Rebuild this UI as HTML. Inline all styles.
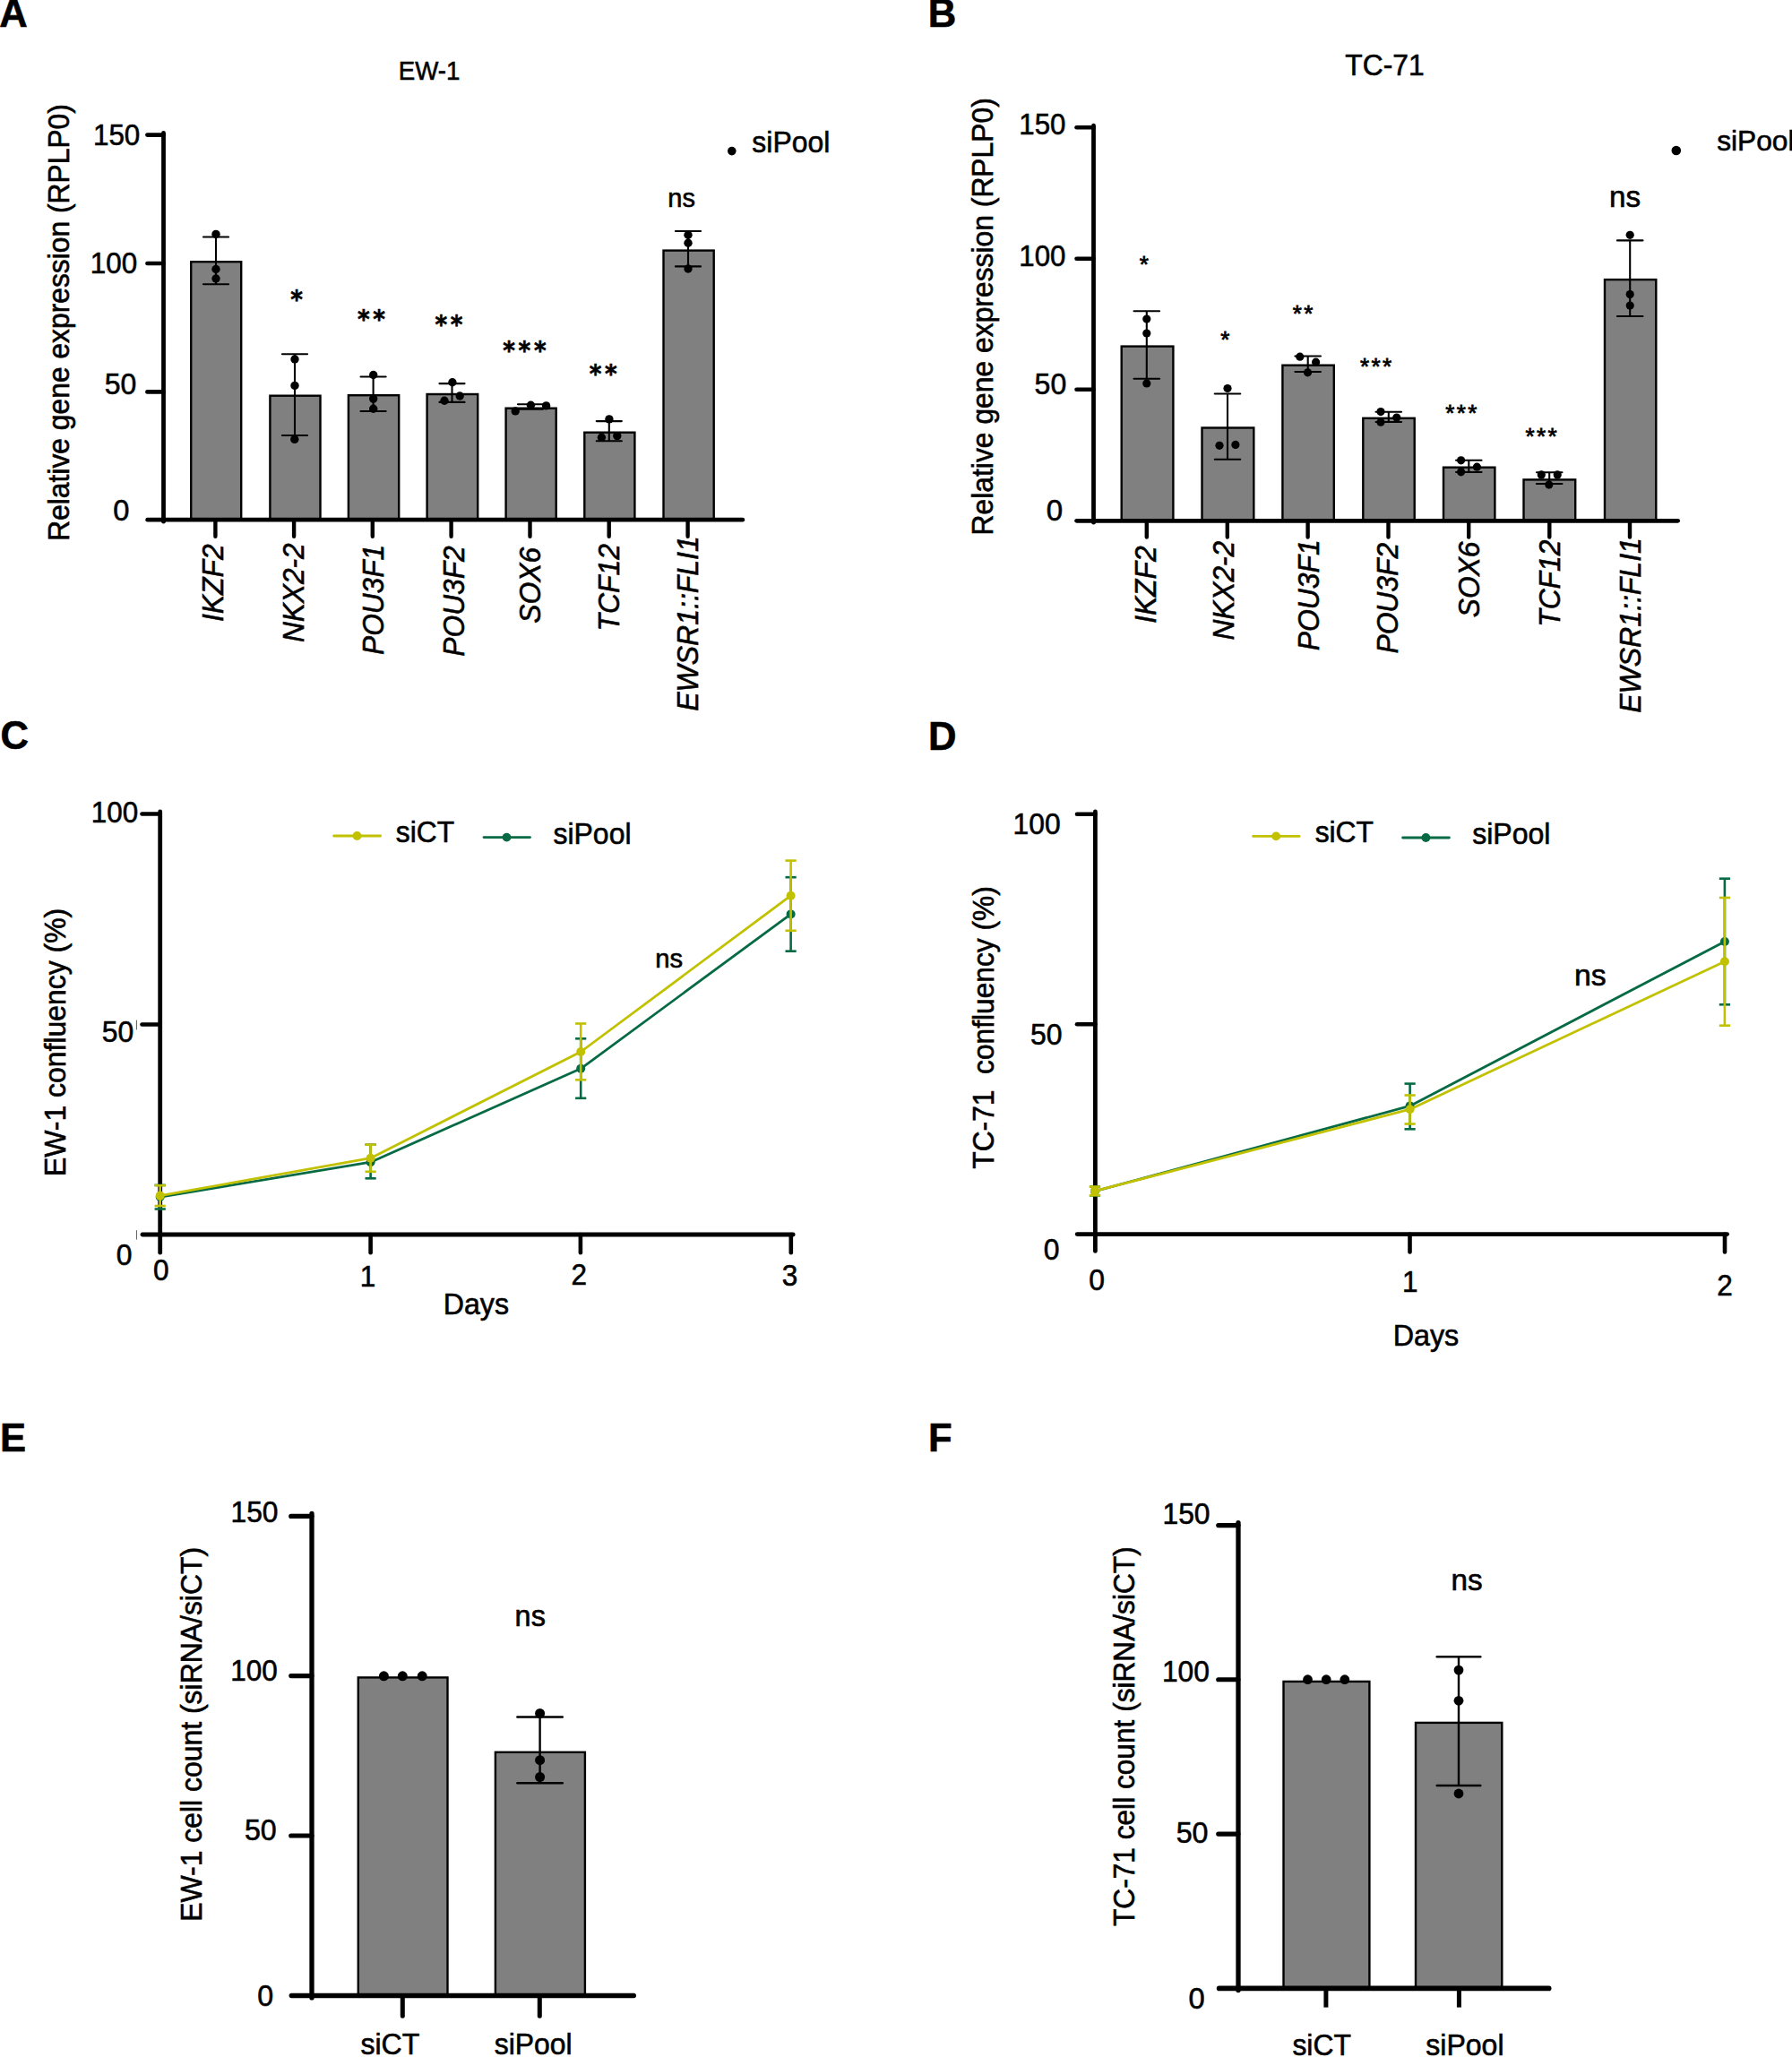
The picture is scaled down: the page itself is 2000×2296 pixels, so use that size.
<!DOCTYPE html>
<html lang="en"><head><meta charset="utf-8"><title>siPool knock-down figure</title>
<style>
html,body{margin:0;padding:0;background:#fff}
body{width:2000px;height:2296px;overflow:hidden}
svg{display:block}
svg text{font-family:"Liberation Sans",Arial,Helvetica,sans-serif;fill:#000;stroke:#000;stroke-width:0.6px}
svg text.dv{font-family:"DejaVu Sans","Liberation Sans",sans-serif;font-weight:bold}
</style></head><body>
<svg width="2000" height="2296" viewBox="0 0 2000 2296">
<rect width="2000" height="2296" fill="#fff"/>
<rect x="213.20" y="292.20" width="56.00" height="288.00" fill="#808080" stroke="#000" stroke-width="2.4"/>
<rect x="301.40" y="441.70" width="56.10" height="138.50" fill="#808080" stroke="#000" stroke-width="2.4"/>
<rect x="388.90" y="441.20" width="56.30" height="139.00" fill="#808080" stroke="#000" stroke-width="2.4"/>
<rect x="476.60" y="440.00" width="56.60" height="140.20" fill="#808080" stroke="#000" stroke-width="2.4"/>
<rect x="564.60" y="455.70" width="56.10" height="124.50" fill="#808080" stroke="#000" stroke-width="2.4"/>
<rect x="652.30" y="482.70" width="56.10" height="97.50" fill="#808080" stroke="#000" stroke-width="2.4"/>
<rect x="740.50" y="279.60" width="56.20" height="300.60" fill="#808080" stroke="#000" stroke-width="2.4"/>
<line x1="182.50" y1="148.50" x2="182.50" y2="582.20" stroke="#000" stroke-width="4.8" stroke-linecap="round"/>
<line x1="164.70" y1="580.20" x2="828.80" y2="580.20" stroke="#000" stroke-width="4.8" stroke-linecap="round"/>
<line x1="164.40" y1="150.60" x2="182.50" y2="150.60" stroke="#000" stroke-width="4.6" stroke-linecap="round"/>
<line x1="164.40" y1="294.00" x2="182.50" y2="294.00" stroke="#000" stroke-width="4.6" stroke-linecap="round"/>
<line x1="164.40" y1="437.40" x2="182.50" y2="437.40" stroke="#000" stroke-width="4.6" stroke-linecap="round"/>
<line x1="240.40" y1="580.20" x2="240.40" y2="598.70" stroke="#000" stroke-width="4.4" stroke-linecap="round"/>
<line x1="328.10" y1="580.20" x2="328.10" y2="598.70" stroke="#000" stroke-width="4.4" stroke-linecap="round"/>
<line x1="415.80" y1="580.20" x2="415.80" y2="598.70" stroke="#000" stroke-width="4.4" stroke-linecap="round"/>
<line x1="503.60" y1="580.20" x2="503.60" y2="598.70" stroke="#000" stroke-width="4.4" stroke-linecap="round"/>
<line x1="591.50" y1="580.20" x2="591.50" y2="598.70" stroke="#000" stroke-width="4.4" stroke-linecap="round"/>
<line x1="679.70" y1="580.20" x2="679.70" y2="598.70" stroke="#000" stroke-width="4.4" stroke-linecap="round"/>
<line x1="767.60" y1="580.20" x2="767.60" y2="598.70" stroke="#000" stroke-width="4.4" stroke-linecap="round"/>
<line x1="241.00" y1="264.50" x2="241.00" y2="317.20" stroke="#000" stroke-width="2.1" stroke-linecap="butt"/>
<line x1="226.95" y1="264.50" x2="255.05" y2="264.50" stroke="#000" stroke-width="2.1" stroke-linecap="round"/>
<line x1="226.95" y1="317.20" x2="255.05" y2="317.20" stroke="#000" stroke-width="2.1" stroke-linecap="round"/>
<line x1="329.00" y1="395.20" x2="329.00" y2="486.00" stroke="#000" stroke-width="2.1" stroke-linecap="butt"/>
<line x1="314.95" y1="395.20" x2="343.05" y2="395.20" stroke="#000" stroke-width="2.1" stroke-linecap="round"/>
<line x1="314.95" y1="486.00" x2="343.05" y2="486.00" stroke="#000" stroke-width="2.1" stroke-linecap="round"/>
<line x1="416.60" y1="420.50" x2="416.60" y2="459.00" stroke="#000" stroke-width="2.1" stroke-linecap="butt"/>
<line x1="402.55" y1="420.50" x2="430.65" y2="420.50" stroke="#000" stroke-width="2.1" stroke-linecap="round"/>
<line x1="402.55" y1="459.00" x2="430.65" y2="459.00" stroke="#000" stroke-width="2.1" stroke-linecap="round"/>
<line x1="504.50" y1="428.10" x2="504.50" y2="448.90" stroke="#000" stroke-width="2.1" stroke-linecap="butt"/>
<line x1="490.45" y1="428.10" x2="518.55" y2="428.10" stroke="#000" stroke-width="2.1" stroke-linecap="round"/>
<line x1="490.45" y1="448.90" x2="518.55" y2="448.90" stroke="#000" stroke-width="2.1" stroke-linecap="round"/>
<line x1="592.00" y1="451.30" x2="592.00" y2="456.70" stroke="#000" stroke-width="2.1" stroke-linecap="butt"/>
<line x1="577.95" y1="451.30" x2="606.05" y2="451.30" stroke="#000" stroke-width="2.1" stroke-linecap="round"/>
<line x1="577.95" y1="456.70" x2="606.05" y2="456.70" stroke="#000" stroke-width="2.1" stroke-linecap="round"/>
<line x1="679.80" y1="470.10" x2="679.80" y2="492.20" stroke="#000" stroke-width="2.1" stroke-linecap="butt"/>
<line x1="665.75" y1="470.10" x2="693.85" y2="470.10" stroke="#000" stroke-width="2.1" stroke-linecap="round"/>
<line x1="665.75" y1="492.20" x2="693.85" y2="492.20" stroke="#000" stroke-width="2.1" stroke-linecap="round"/>
<line x1="768.00" y1="258.00" x2="768.00" y2="297.40" stroke="#000" stroke-width="2.1" stroke-linecap="butt"/>
<line x1="753.95" y1="258.00" x2="782.05" y2="258.00" stroke="#000" stroke-width="2.1" stroke-linecap="round"/>
<line x1="753.95" y1="297.40" x2="782.05" y2="297.40" stroke="#000" stroke-width="2.1" stroke-linecap="round"/>
<circle cx="241.00" cy="261.40" r="4.7" fill="#000"/>
<circle cx="241.00" cy="300.50" r="4.7" fill="#000"/>
<circle cx="241.00" cy="311.00" r="4.7" fill="#000"/>
<circle cx="329.00" cy="401.00" r="4.7" fill="#000"/>
<circle cx="329.00" cy="430.40" r="4.7" fill="#000"/>
<circle cx="328.80" cy="490.40" r="4.7" fill="#000"/>
<circle cx="416.70" cy="418.50" r="4.7" fill="#000"/>
<circle cx="416.70" cy="445.10" r="4.7" fill="#000"/>
<circle cx="416.70" cy="456.30" r="4.7" fill="#000"/>
<circle cx="504.90" cy="426.80" r="4.7" fill="#000"/>
<circle cx="513.20" cy="442.00" r="4.7" fill="#000"/>
<circle cx="496.00" cy="447.30" r="4.7" fill="#000"/>
<circle cx="575.20" cy="458.90" r="4.7" fill="#000"/>
<circle cx="592.40" cy="452.20" r="4.7" fill="#000"/>
<circle cx="609.60" cy="452.90" r="4.7" fill="#000"/>
<circle cx="679.90" cy="467.90" r="4.7" fill="#000"/>
<circle cx="671.40" cy="488.20" r="4.7" fill="#000"/>
<circle cx="688.80" cy="486.60" r="4.7" fill="#000"/>
<circle cx="768.00" cy="262.30" r="4.7" fill="#000"/>
<circle cx="768.00" cy="271.20" r="4.7" fill="#000"/>
<circle cx="768.00" cy="300.00" r="4.7" fill="#000"/>
<text transform="translate(106.30,161.50) scale(0.9424,1)" x="-2.50" y="0" font-size="33.30">150</text>
<text transform="translate(103.20,305.00) scale(0.9424,1)" x="-2.50" y="0" font-size="33.30">100</text>
<text transform="translate(118.00,440.10) scale(0.9598,1)" x="-1.33" y="0" font-size="33.30">50</text>
<text transform="translate(127.50,581.30) scale(0.9811,1)" x="-1.33" y="0" font-size="33.30">0</text>
<text transform="translate(77.20,601.20) rotate(-90) scale(0.9550,1)" x="-2.75" y="0" font-size="33.30">Relative gene expression (RPLP0)</text>
<text transform="translate(248.90,692.80) rotate(-90) scale(0.9560,1)" x="-1.33" y="0" font-size="33.30" font-style="italic">IKZF2</text>
<text transform="translate(339.00,716.10) rotate(-90) scale(0.9493,1)" x="-1.00" y="0" font-size="33.30" font-style="italic">NKX2-2</text>
<text transform="translate(427.80,730.00) rotate(-90) scale(0.9500,1)" x="-1.00" y="0" font-size="33.30" font-style="italic">POU3F1</text>
<text transform="translate(518.40,731.70) rotate(-90) scale(0.9514,1)" x="-1.00" y="0" font-size="33.30" font-style="italic">POU3F2</text>
<text transform="translate(602.70,694.90) rotate(-90) scale(0.9555,1)" x="-0.92" y="0" font-size="33.30" font-style="italic">SOX6</text>
<text transform="translate(691.20,701.60) rotate(-90) scale(0.9571,1)" x="-3.00" y="0" font-size="33.30" font-style="italic">TCF12</text>
<text transform="translate(778.70,792.80) rotate(-90) scale(0.9610,1)" x="-1.00" y="0" font-size="33.30" font-style="italic">EWSR1::FLI1</text>
<text transform="translate(324.70,344.28) scale(0.9199,1)" x="-0.57" y="0" font-size="28.39" class="dv" letter-spacing="4.07">*</text>
<text transform="translate(399.50,366.28) scale(0.9199,1)" x="-0.57" y="0" font-size="28.39" class="dv" letter-spacing="4.07">**</text>
<text transform="translate(486.00,371.58) scale(0.9199,1)" x="-0.57" y="0" font-size="28.39" class="dv" letter-spacing="4.07">**</text>
<text transform="translate(561.70,400.78) scale(0.9199,1)" x="-0.57" y="0" font-size="28.39" class="dv" letter-spacing="4.07">***</text>
<text transform="translate(658.20,426.78) scale(0.9199,1)" x="-0.57" y="0" font-size="28.39" class="dv" letter-spacing="4.07">**</text>
<text x="745.34" y="231.10" font-size="28.98">ns</text>
<circle cx="816.80" cy="168.60" r="4.8" fill="#000"/>
<text transform="translate(840.20,170.40) scale(0.9591,1)" x="-0.92" y="0" font-size="33.30">siPool</text>
<text transform="translate(447.00,88.80) scale(0.9376,1)" x="-2.43" y="0" font-size="29.50">EW-1</text>
<rect x="1251.70" y="386.60" width="57.70" height="194.70" fill="#808080" stroke="#000" stroke-width="2.4"/>
<rect x="1341.50" y="477.50" width="57.80" height="103.80" fill="#808080" stroke="#000" stroke-width="2.4"/>
<rect x="1431.40" y="407.70" width="57.40" height="173.60" fill="#808080" stroke="#000" stroke-width="2.4"/>
<rect x="1521.30" y="466.80" width="57.40" height="114.50" fill="#808080" stroke="#000" stroke-width="2.4"/>
<rect x="1611.00" y="521.70" width="57.40" height="59.60" fill="#808080" stroke="#000" stroke-width="2.4"/>
<rect x="1700.50" y="535.40" width="57.70" height="45.90" fill="#808080" stroke="#000" stroke-width="2.4"/>
<rect x="1791.00" y="312.10" width="57.30" height="269.20" fill="#808080" stroke="#000" stroke-width="2.4"/>
<line x1="1220.50" y1="140.20" x2="1220.50" y2="583.20" stroke="#000" stroke-width="4.8" stroke-linecap="round"/>
<line x1="1201.60" y1="581.30" x2="1872.60" y2="581.30" stroke="#000" stroke-width="4.8" stroke-linecap="round"/>
<line x1="1201.50" y1="142.30" x2="1220.50" y2="142.30" stroke="#000" stroke-width="4.6" stroke-linecap="round"/>
<line x1="1201.50" y1="288.70" x2="1220.50" y2="288.70" stroke="#000" stroke-width="4.6" stroke-linecap="round"/>
<line x1="1201.50" y1="434.80" x2="1220.50" y2="434.80" stroke="#000" stroke-width="4.6" stroke-linecap="round"/>
<line x1="1279.80" y1="581.30" x2="1279.80" y2="599.60" stroke="#000" stroke-width="4.4" stroke-linecap="round"/>
<line x1="1369.80" y1="581.30" x2="1369.80" y2="599.60" stroke="#000" stroke-width="4.4" stroke-linecap="round"/>
<line x1="1459.60" y1="581.30" x2="1459.60" y2="599.60" stroke="#000" stroke-width="4.4" stroke-linecap="round"/>
<line x1="1549.50" y1="581.30" x2="1549.50" y2="599.60" stroke="#000" stroke-width="4.4" stroke-linecap="round"/>
<line x1="1639.20" y1="581.30" x2="1639.20" y2="599.60" stroke="#000" stroke-width="4.4" stroke-linecap="round"/>
<line x1="1729.30" y1="581.30" x2="1729.30" y2="599.60" stroke="#000" stroke-width="4.4" stroke-linecap="round"/>
<line x1="1819.00" y1="581.30" x2="1819.00" y2="599.60" stroke="#000" stroke-width="4.4" stroke-linecap="round"/>
<line x1="1279.80" y1="347.20" x2="1279.80" y2="422.80" stroke="#000" stroke-width="2.1" stroke-linecap="butt"/>
<line x1="1265.55" y1="347.20" x2="1294.05" y2="347.20" stroke="#000" stroke-width="2.1" stroke-linecap="round"/>
<line x1="1265.55" y1="422.80" x2="1294.05" y2="422.80" stroke="#000" stroke-width="2.1" stroke-linecap="round"/>
<line x1="1370.00" y1="439.50" x2="1370.00" y2="512.70" stroke="#000" stroke-width="2.1" stroke-linecap="butt"/>
<line x1="1355.75" y1="439.50" x2="1384.25" y2="439.50" stroke="#000" stroke-width="2.1" stroke-linecap="round"/>
<line x1="1355.75" y1="512.70" x2="1384.25" y2="512.70" stroke="#000" stroke-width="2.1" stroke-linecap="round"/>
<line x1="1459.70" y1="397.50" x2="1459.70" y2="415.00" stroke="#000" stroke-width="2.1" stroke-linecap="butt"/>
<line x1="1445.45" y1="397.50" x2="1473.95" y2="397.50" stroke="#000" stroke-width="2.1" stroke-linecap="round"/>
<line x1="1445.45" y1="415.00" x2="1473.95" y2="415.00" stroke="#000" stroke-width="2.1" stroke-linecap="round"/>
<line x1="1549.80" y1="459.80" x2="1549.80" y2="471.00" stroke="#000" stroke-width="2.1" stroke-linecap="butt"/>
<line x1="1535.55" y1="459.80" x2="1564.05" y2="459.80" stroke="#000" stroke-width="2.1" stroke-linecap="round"/>
<line x1="1535.55" y1="471.00" x2="1564.05" y2="471.00" stroke="#000" stroke-width="2.1" stroke-linecap="round"/>
<line x1="1639.30" y1="513.80" x2="1639.30" y2="527.00" stroke="#000" stroke-width="2.1" stroke-linecap="butt"/>
<line x1="1625.05" y1="513.80" x2="1653.55" y2="513.80" stroke="#000" stroke-width="2.1" stroke-linecap="round"/>
<line x1="1625.05" y1="527.00" x2="1653.55" y2="527.00" stroke="#000" stroke-width="2.1" stroke-linecap="round"/>
<line x1="1729.20" y1="527.20" x2="1729.20" y2="540.00" stroke="#000" stroke-width="2.1" stroke-linecap="butt"/>
<line x1="1714.95" y1="527.20" x2="1743.45" y2="527.20" stroke="#000" stroke-width="2.1" stroke-linecap="round"/>
<line x1="1714.95" y1="540.00" x2="1743.45" y2="540.00" stroke="#000" stroke-width="2.1" stroke-linecap="round"/>
<line x1="1819.20" y1="268.40" x2="1819.20" y2="353.00" stroke="#000" stroke-width="2.1" stroke-linecap="butt"/>
<line x1="1804.95" y1="268.40" x2="1833.45" y2="268.40" stroke="#000" stroke-width="2.1" stroke-linecap="round"/>
<line x1="1804.95" y1="353.00" x2="1833.45" y2="353.00" stroke="#000" stroke-width="2.1" stroke-linecap="round"/>
<circle cx="1279.80" cy="356.00" r="4.6" fill="#000"/>
<circle cx="1279.80" cy="372.00" r="4.6" fill="#000"/>
<circle cx="1279.80" cy="427.90" r="4.6" fill="#000"/>
<circle cx="1370.00" cy="433.50" r="4.6" fill="#000"/>
<circle cx="1361.00" cy="497.30" r="4.6" fill="#000"/>
<circle cx="1378.90" cy="496.40" r="4.6" fill="#000"/>
<circle cx="1450.80" cy="398.20" r="4.6" fill="#000"/>
<circle cx="1468.60" cy="404.20" r="4.6" fill="#000"/>
<circle cx="1459.50" cy="415.80" r="4.6" fill="#000"/>
<circle cx="1541.00" cy="459.60" r="4.6" fill="#000"/>
<circle cx="1558.80" cy="466.10" r="4.6" fill="#000"/>
<circle cx="1541.00" cy="471.20" r="4.6" fill="#000"/>
<circle cx="1630.60" cy="513.80" r="4.6" fill="#000"/>
<circle cx="1648.40" cy="521.20" r="4.6" fill="#000"/>
<circle cx="1630.60" cy="526.80" r="4.6" fill="#000"/>
<circle cx="1720.30" cy="529.90" r="4.6" fill="#000"/>
<circle cx="1738.20" cy="529.90" r="4.6" fill="#000"/>
<circle cx="1728.80" cy="541.10" r="4.6" fill="#000"/>
<circle cx="1819.20" cy="262.30" r="4.6" fill="#000"/>
<circle cx="1819.20" cy="328.60" r="4.6" fill="#000"/>
<circle cx="1819.20" cy="341.00" r="4.6" fill="#000"/>
<text transform="translate(1139.70,149.80) scale(0.9386,1)" x="-2.50" y="0" font-size="33.30">150</text>
<text transform="translate(1139.70,296.90) scale(0.9386,1)" x="-2.50" y="0" font-size="33.30">100</text>
<text transform="translate(1155.85,439.80) scale(0.9627,1)" x="-1.33" y="0" font-size="33.30">50</text>
<text transform="translate(1169.00,581.40) scale(0.9937,1)" x="-1.33" y="0" font-size="33.30">0</text>
<text transform="translate(1108.20,594.80) rotate(-90) scale(0.9562,1)" x="-2.75" y="0" font-size="33.30">Relative gene expression (RPLP0)</text>
<text transform="translate(1289.70,694.60) rotate(-90) scale(0.9538,1)" x="-1.33" y="0" font-size="33.30" font-style="italic">IKZF2</text>
<text transform="translate(1377.20,713.60) rotate(-90) scale(0.9493,1)" x="-1.00" y="0" font-size="33.30" font-style="italic">NKX2-2</text>
<text transform="translate(1472.00,725.30) rotate(-90) scale(0.9579,1)" x="-1.00" y="0" font-size="33.30" font-style="italic">POU3F1</text>
<text transform="translate(1560.20,728.60) rotate(-90) scale(0.9546,1)" x="-1.00" y="0" font-size="33.30" font-style="italic">POU3F2</text>
<text transform="translate(1651.20,688.30) rotate(-90) scale(0.9532,1)" x="-0.92" y="0" font-size="33.30" font-style="italic">SOX6</text>
<text transform="translate(1740.50,696.90) rotate(-90) scale(0.9540,1)" x="-3.00" y="0" font-size="33.30" font-style="italic">TCF12</text>
<text transform="translate(1830.90,794.90) rotate(-90) scale(0.9620,1)" x="-1.00" y="0" font-size="33.30" font-style="italic">EWSR1::FLI1</text>
<text x="1271.85" y="304.18" font-size="26.00" letter-spacing="2.38" style="stroke-width:0.8px">*</text>
<text x="1362.25" y="387.88" font-size="26.00" letter-spacing="2.38" style="stroke-width:0.8px">*</text>
<text x="1442.65" y="359.27" font-size="26.00" letter-spacing="2.38" style="stroke-width:0.8px">**</text>
<text x="1518.05" y="418.18" font-size="26.00" letter-spacing="2.38" style="stroke-width:0.8px">***</text>
<text x="1613.15" y="470.27" font-size="26.00" letter-spacing="2.38" style="stroke-width:0.8px">***</text>
<text x="1702.45" y="495.98" font-size="26.00" letter-spacing="2.38" style="stroke-width:0.8px">***</text>
<text x="1796.06" y="231.10" font-size="33.18">ns</text>
<circle cx="1870.80" cy="168.00" r="5.3" fill="#000"/>
<text transform="translate(1917.00,167.60) scale(0.9848,1)" x="-0.89" y="0" font-size="32.20">siPool</text>
<text transform="translate(1502.00,83.60) scale(0.9550,1)" x="-0.75" y="0" font-size="33.30">TC-71</text>
<line x1="178.70" y1="905.90" x2="178.70" y2="1398.20" stroke="#000" stroke-width="4.8" stroke-linecap="round"/>
<line x1="158.90" y1="1378.00" x2="885.20" y2="1378.00" stroke="#000" stroke-width="4.8" stroke-linecap="round"/>
<line x1="158.50" y1="908.50" x2="178.70" y2="908.50" stroke="#000" stroke-width="4.6" stroke-linecap="round"/>
<line x1="158.50" y1="1143.50" x2="178.70" y2="1143.50" stroke="#000" stroke-width="4.6" stroke-linecap="round"/>
<line x1="413.60" y1="1378.00" x2="413.60" y2="1398.30" stroke="#000" stroke-width="4.6" stroke-linecap="round"/>
<line x1="647.90" y1="1378.00" x2="647.90" y2="1398.30" stroke="#000" stroke-width="4.6" stroke-linecap="round"/>
<line x1="882.80" y1="1378.00" x2="882.80" y2="1398.30" stroke="#000" stroke-width="4.6" stroke-linecap="round"/>
<path d="M178.70,1336.00 L413.60,1297.20 L648.20,1192.80 L882.60,1020.40" fill="none" stroke="#066a44" stroke-width="2.8" stroke-linejoin="round"/>
<line x1="178.70" y1="1322.90" x2="178.70" y2="1349.50" stroke="#066a44" stroke-width="2.5999999999999996" stroke-linecap="butt"/>
<line x1="172.60" y1="1322.90" x2="184.80" y2="1322.90" stroke="#066a44" stroke-width="2.5999999999999996" stroke-linecap="butt"/>
<line x1="172.60" y1="1349.50" x2="184.80" y2="1349.50" stroke="#066a44" stroke-width="2.5999999999999996" stroke-linecap="butt"/>
<line x1="413.60" y1="1277.70" x2="413.60" y2="1315.30" stroke="#066a44" stroke-width="2.5999999999999996" stroke-linecap="butt"/>
<line x1="407.50" y1="1277.70" x2="419.70" y2="1277.70" stroke="#066a44" stroke-width="2.5999999999999996" stroke-linecap="butt"/>
<line x1="407.50" y1="1315.30" x2="419.70" y2="1315.30" stroke="#066a44" stroke-width="2.5999999999999996" stroke-linecap="butt"/>
<line x1="648.20" y1="1159.30" x2="648.20" y2="1225.80" stroke="#066a44" stroke-width="2.5999999999999996" stroke-linecap="butt"/>
<line x1="642.10" y1="1159.30" x2="654.30" y2="1159.30" stroke="#066a44" stroke-width="2.5999999999999996" stroke-linecap="butt"/>
<line x1="642.10" y1="1225.80" x2="654.30" y2="1225.80" stroke="#066a44" stroke-width="2.5999999999999996" stroke-linecap="butt"/>
<line x1="882.60" y1="979.20" x2="882.60" y2="1061.70" stroke="#066a44" stroke-width="2.5999999999999996" stroke-linecap="butt"/>
<line x1="876.50" y1="979.20" x2="888.70" y2="979.20" stroke="#066a44" stroke-width="2.5999999999999996" stroke-linecap="butt"/>
<line x1="876.50" y1="1061.70" x2="888.70" y2="1061.70" stroke="#066a44" stroke-width="2.5999999999999996" stroke-linecap="butt"/>
<circle cx="178.70" cy="1336.00" r="5.0" fill="#066a44"/>
<circle cx="413.60" cy="1297.20" r="5.0" fill="#066a44"/>
<circle cx="648.20" cy="1192.80" r="5.0" fill="#066a44"/>
<circle cx="882.60" cy="1020.40" r="5.0" fill="#066a44"/>
<path d="M178.70,1334.60 L413.60,1292.70 L648.20,1174.00 L882.60,999.70" fill="none" stroke="#c1c100" stroke-width="2.8" stroke-linejoin="round"/>
<line x1="178.70" y1="1323.20" x2="178.70" y2="1346.00" stroke="#c1c100" stroke-width="2.5999999999999996" stroke-linecap="butt"/>
<line x1="172.60" y1="1323.20" x2="184.80" y2="1323.20" stroke="#c1c100" stroke-width="2.5999999999999996" stroke-linecap="butt"/>
<line x1="172.60" y1="1346.00" x2="184.80" y2="1346.00" stroke="#c1c100" stroke-width="2.5999999999999996" stroke-linecap="butt"/>
<line x1="413.60" y1="1277.70" x2="413.60" y2="1307.80" stroke="#c1c100" stroke-width="2.5999999999999996" stroke-linecap="butt"/>
<line x1="407.50" y1="1277.70" x2="419.70" y2="1277.70" stroke="#c1c100" stroke-width="2.5999999999999996" stroke-linecap="butt"/>
<line x1="407.50" y1="1307.80" x2="419.70" y2="1307.80" stroke="#c1c100" stroke-width="2.5999999999999996" stroke-linecap="butt"/>
<line x1="648.20" y1="1142.50" x2="648.20" y2="1205.30" stroke="#c1c100" stroke-width="2.5999999999999996" stroke-linecap="butt"/>
<line x1="642.10" y1="1142.50" x2="654.30" y2="1142.50" stroke="#c1c100" stroke-width="2.5999999999999996" stroke-linecap="butt"/>
<line x1="642.10" y1="1205.30" x2="654.30" y2="1205.30" stroke="#c1c100" stroke-width="2.5999999999999996" stroke-linecap="butt"/>
<line x1="882.60" y1="960.60" x2="882.60" y2="1038.80" stroke="#c1c100" stroke-width="2.5999999999999996" stroke-linecap="butt"/>
<line x1="876.50" y1="960.60" x2="888.70" y2="960.60" stroke="#c1c100" stroke-width="2.5999999999999996" stroke-linecap="butt"/>
<line x1="876.50" y1="1038.80" x2="888.70" y2="1038.80" stroke="#c1c100" stroke-width="2.5999999999999996" stroke-linecap="butt"/>
<circle cx="178.70" cy="1334.60" r="5.0" fill="#c1c100"/>
<circle cx="413.60" cy="1292.70" r="5.0" fill="#c1c100"/>
<circle cx="648.20" cy="1174.00" r="5.0" fill="#c1c100"/>
<circle cx="882.60" cy="999.70" r="5.0" fill="#c1c100"/>
<text transform="translate(104.10,918.00) scale(0.9424,1)" x="-2.50" y="0" font-size="33.30">100</text>
<text transform="translate(115.05,1163.00) scale(0.9569,1)" x="-1.33" y="0" font-size="33.30">50</text>
<text transform="translate(131.00,1412.00) scale(0.9559,1)" x="-1.33" y="0" font-size="33.30">0</text>
<line x1="152.40" y1="1138.60" x2="152.40" y2="1149.40" stroke="#444" stroke-width="0.9" stroke-linecap="butt"/>
<line x1="152.50" y1="1373.20" x2="152.50" y2="1383.60" stroke="#555" stroke-width="0.9" stroke-linecap="butt"/>
<text transform="translate(172.25,1428.80) scale(0.9496,1)" x="-1.33" y="0" font-size="33.30">0</text>
<text transform="translate(404.19,1435.90) scale(0.9450,1)" x="-2.50" y="0" font-size="33.30">1</text>
<text transform="translate(639.04,1434.20) scale(0.9450,1)" x="-1.67" y="0" font-size="33.30">2</text>
<text transform="translate(874.03,1434.50) scale(0.9450,1)" x="-1.25" y="0" font-size="33.30">3</text>
<text transform="translate(497.40,1466.80) scale(0.9649,1)" x="-2.75" y="0" font-size="33.30">Days</text>
<text transform="translate(73.40,1310.40) rotate(-90) scale(0.9591,1)" x="-2.75" y="0" font-size="33.30">EW-1 confluency (%)</text>
<line x1="372.60" y1="933.00" x2="424.60" y2="933.00" stroke="#c1c100" stroke-width="2.8" stroke-linecap="round"/>
<circle cx="398.50" cy="933.00" r="4.9" fill="#c1c100"/>
<text transform="translate(442.70,939.60) scale(0.9526,1)" x="-0.92" y="0" font-size="33.30">siCT</text>
<line x1="540.00" y1="934.60" x2="591.50" y2="934.60" stroke="#066a44" stroke-width="2.8" stroke-linecap="round"/>
<circle cx="565.50" cy="934.60" r="4.9" fill="#066a44"/>
<text transform="translate(618.40,941.60) scale(0.9591,1)" x="-0.92" y="0" font-size="33.30">siPool</text>
<text x="731.33" y="1080.40" font-size="29.19">ns</text>
<line x1="1222.40" y1="905.90" x2="1222.40" y2="1396.40" stroke="#000" stroke-width="4.8" stroke-linecap="round"/>
<line x1="1202.20" y1="1377.60" x2="1927.60" y2="1377.60" stroke="#000" stroke-width="4.8" stroke-linecap="round"/>
<line x1="1202.00" y1="908.70" x2="1222.40" y2="908.70" stroke="#000" stroke-width="4.6" stroke-linecap="round"/>
<line x1="1202.00" y1="1143.20" x2="1222.40" y2="1143.20" stroke="#000" stroke-width="4.6" stroke-linecap="round"/>
<line x1="1573.50" y1="1377.80" x2="1573.50" y2="1397.50" stroke="#000" stroke-width="4.6" stroke-linecap="round"/>
<line x1="1925.00" y1="1377.80" x2="1925.00" y2="1397.50" stroke="#000" stroke-width="4.6" stroke-linecap="round"/>
<path d="M1222.00,1329.70 L1573.60,1234.40 L1924.90,1051.00" fill="none" stroke="#066a44" stroke-width="2.8" stroke-linejoin="round"/>
<line x1="1222.00" y1="1324.60" x2="1222.00" y2="1334.40" stroke="#066a44" stroke-width="2.5999999999999996" stroke-linecap="butt"/>
<line x1="1215.90" y1="1324.60" x2="1228.10" y2="1324.60" stroke="#066a44" stroke-width="2.5999999999999996" stroke-linecap="butt"/>
<line x1="1215.90" y1="1334.40" x2="1228.10" y2="1334.40" stroke="#066a44" stroke-width="2.5999999999999996" stroke-linecap="butt"/>
<line x1="1573.60" y1="1209.60" x2="1573.60" y2="1260.30" stroke="#066a44" stroke-width="2.5999999999999996" stroke-linecap="butt"/>
<line x1="1567.50" y1="1209.60" x2="1579.70" y2="1209.60" stroke="#066a44" stroke-width="2.5999999999999996" stroke-linecap="butt"/>
<line x1="1567.50" y1="1260.30" x2="1579.70" y2="1260.30" stroke="#066a44" stroke-width="2.5999999999999996" stroke-linecap="butt"/>
<line x1="1924.90" y1="980.70" x2="1924.90" y2="1121.30" stroke="#066a44" stroke-width="2.5999999999999996" stroke-linecap="butt"/>
<line x1="1918.80" y1="980.70" x2="1931.00" y2="980.70" stroke="#066a44" stroke-width="2.5999999999999996" stroke-linecap="butt"/>
<line x1="1918.80" y1="1121.30" x2="1931.00" y2="1121.30" stroke="#066a44" stroke-width="2.5999999999999996" stroke-linecap="butt"/>
<circle cx="1222.00" cy="1329.70" r="5.0" fill="#066a44"/>
<circle cx="1573.60" cy="1234.40" r="5.0" fill="#066a44"/>
<circle cx="1924.90" cy="1051.00" r="5.0" fill="#066a44"/>
<path d="M1222.00,1329.40 L1573.60,1238.20 L1924.90,1073.30" fill="none" stroke="#c1c100" stroke-width="2.8" stroke-linejoin="round"/>
<line x1="1222.00" y1="1324.60" x2="1222.00" y2="1334.20" stroke="#c1c100" stroke-width="2.5999999999999996" stroke-linecap="butt"/>
<line x1="1215.90" y1="1324.60" x2="1228.10" y2="1324.60" stroke="#c1c100" stroke-width="2.5999999999999996" stroke-linecap="butt"/>
<line x1="1215.90" y1="1334.20" x2="1228.10" y2="1334.20" stroke="#c1c100" stroke-width="2.5999999999999996" stroke-linecap="butt"/>
<line x1="1573.60" y1="1222.50" x2="1573.60" y2="1254.50" stroke="#c1c100" stroke-width="2.5999999999999996" stroke-linecap="butt"/>
<line x1="1567.50" y1="1222.50" x2="1579.70" y2="1222.50" stroke="#c1c100" stroke-width="2.5999999999999996" stroke-linecap="butt"/>
<line x1="1567.50" y1="1254.50" x2="1579.70" y2="1254.50" stroke="#c1c100" stroke-width="2.5999999999999996" stroke-linecap="butt"/>
<line x1="1924.90" y1="1002.00" x2="1924.90" y2="1144.70" stroke="#c1c100" stroke-width="2.5999999999999996" stroke-linecap="butt"/>
<line x1="1918.80" y1="1002.00" x2="1931.00" y2="1002.00" stroke="#c1c100" stroke-width="2.5999999999999996" stroke-linecap="butt"/>
<line x1="1918.80" y1="1144.70" x2="1931.00" y2="1144.70" stroke="#c1c100" stroke-width="2.5999999999999996" stroke-linecap="butt"/>
<circle cx="1222.00" cy="1329.40" r="5.0" fill="#c1c100"/>
<circle cx="1573.60" cy="1238.20" r="5.0" fill="#c1c100"/>
<circle cx="1924.90" cy="1073.30" r="5.0" fill="#c1c100"/>
<text transform="translate(1133.00,931.30) scale(0.9540,1)" x="-2.50" y="0" font-size="33.30">100</text>
<text transform="translate(1151.20,1165.80) scale(0.9598,1)" x="-1.33" y="0" font-size="33.30">50</text>
<text transform="translate(1166.10,1405.60) scale(0.9559,1)" x="-1.33" y="0" font-size="33.30">0</text>
<text transform="translate(1216.50,1439.80) scale(0.9559,1)" x="-1.33" y="0" font-size="33.30">0</text>
<text transform="translate(1567.29,1441.70) scale(0.9450,1)" x="-2.50" y="0" font-size="33.30">1</text>
<text transform="translate(1917.84,1446.20) scale(0.9450,1)" x="-1.67" y="0" font-size="33.30">2</text>
<text transform="translate(1557.30,1501.90) scale(0.9704,1)" x="-2.75" y="0" font-size="33.30">Days</text>
<text transform="translate(1108.70,1304.00) rotate(-90) scale(0.9528,1)" x="-0.75" y="0" font-size="33.30" xml:space="preserve" style="white-space:pre">TC-71  confluency (%)</text>
<line x1="1398.60" y1="933.40" x2="1450.10" y2="933.40" stroke="#c1c100" stroke-width="2.8" stroke-linecap="round"/>
<circle cx="1424.20" cy="933.40" r="4.9" fill="#c1c100"/>
<text transform="translate(1468.55,939.70) scale(0.9541,1)" x="-0.92" y="0" font-size="33.30">siCT</text>
<line x1="1565.60" y1="935.00" x2="1617.40" y2="935.00" stroke="#066a44" stroke-width="2.8" stroke-linecap="round"/>
<circle cx="1591.40" cy="935.00" r="4.9" fill="#066a44"/>
<text transform="translate(1644.10,942.00) scale(0.9614,1)" x="-0.92" y="0" font-size="33.30">siPool</text>
<text x="1756.92" y="1100.10" font-size="33.81">ns</text>
<rect x="399.80" y="1872.40" width="99.70" height="355.10" fill="#808080" stroke="#000" stroke-width="2.4"/>
<rect x="552.90" y="1955.80" width="100.00" height="271.70" fill="#808080" stroke="#000" stroke-width="2.4"/>
<line x1="348.00" y1="1689.50" x2="348.00" y2="2229.90" stroke="#000" stroke-width="5.3" stroke-linecap="round"/>
<line x1="325.40" y1="2227.50" x2="707.20" y2="2227.50" stroke="#000" stroke-width="5.6" stroke-linecap="round"/>
<line x1="324.70" y1="1692.40" x2="348.00" y2="1692.40" stroke="#000" stroke-width="5.1" stroke-linecap="round"/>
<line x1="324.70" y1="1870.60" x2="348.00" y2="1870.60" stroke="#000" stroke-width="5.1" stroke-linecap="round"/>
<line x1="324.70" y1="2049.00" x2="348.00" y2="2049.00" stroke="#000" stroke-width="5.1" stroke-linecap="round"/>
<line x1="449.30" y1="2227.50" x2="449.30" y2="2250.20" stroke="#000" stroke-width="5.0" stroke-linecap="round"/>
<line x1="602.30" y1="2227.50" x2="602.30" y2="2250.20" stroke="#000" stroke-width="5.0" stroke-linecap="round"/>
<line x1="602.60" y1="1916.50" x2="602.60" y2="1990.30" stroke="#000" stroke-width="2.4" stroke-linecap="butt"/>
<line x1="577.40" y1="1916.50" x2="627.80" y2="1916.50" stroke="#000" stroke-width="2.4" stroke-linecap="round"/>
<line x1="577.40" y1="1990.30" x2="627.80" y2="1990.30" stroke="#000" stroke-width="2.4" stroke-linecap="round"/>
<circle cx="428.40" cy="1870.80" r="5.5" fill="#000"/>
<circle cx="449.30" cy="1870.80" r="5.5" fill="#000"/>
<circle cx="471.20" cy="1870.80" r="5.5" fill="#000"/>
<circle cx="602.60" cy="1912.40" r="5.5" fill="#000"/>
<circle cx="602.60" cy="1964.70" r="5.5" fill="#000"/>
<circle cx="602.60" cy="1983.50" r="5.5" fill="#000"/>
<text transform="translate(259.90,1699.40) scale(0.9540,1)" x="-2.50" y="0" font-size="33.30">150</text>
<text transform="translate(259.50,1875.80) scale(0.9463,1)" x="-2.50" y="0" font-size="33.30">100</text>
<text transform="translate(274.20,2054.30) scale(0.9656,1)" x="-1.33" y="0" font-size="33.30">50</text>
<text transform="translate(288.50,2238.50) scale(0.9685,1)" x="-1.33" y="0" font-size="33.30">0</text>
<text transform="translate(225.40,2142.20) rotate(-90) scale(0.9589,1)" x="-2.75" y="0" font-size="33.30">EW-1 cell count (siRNA/siCT)</text>
<text x="574.61" y="1814.60" font-size="32.44">ns</text>
<text transform="translate(403.25,2293.30) scale(0.9631,1)" x="-0.92" y="0" font-size="33.30">siCT</text>
<text transform="translate(552.60,2293.30) scale(0.9591,1)" x="-0.92" y="0" font-size="33.30">siPool</text>
<rect x="1432.50" y="1876.90" width="95.90" height="342.50" fill="#808080" stroke="#000" stroke-width="2.4"/>
<rect x="1580.00" y="1922.90" width="96.30" height="296.50" fill="#808080" stroke="#000" stroke-width="2.4"/>
<line x1="1382.00" y1="1699.60" x2="1382.00" y2="2221.60" stroke="#000" stroke-width="5.3" stroke-linecap="round"/>
<line x1="1360.60" y1="2219.40" x2="1728.70" y2="2219.40" stroke="#000" stroke-width="5.6" stroke-linecap="round"/>
<line x1="1359.70" y1="1702.60" x2="1382.00" y2="1702.60" stroke="#000" stroke-width="5.1" stroke-linecap="round"/>
<line x1="1359.70" y1="1874.80" x2="1382.00" y2="1874.80" stroke="#000" stroke-width="5.1" stroke-linecap="round"/>
<line x1="1359.70" y1="2047.10" x2="1382.00" y2="2047.10" stroke="#000" stroke-width="5.1" stroke-linecap="round"/>
<line x1="1479.90" y1="2219.40" x2="1479.90" y2="2240.60" stroke="#000" stroke-width="5.0" stroke-linecap="butt"/>
<line x1="1628.40" y1="2219.40" x2="1628.40" y2="2240.60" stroke="#000" stroke-width="5.0" stroke-linecap="butt"/>
<line x1="1628.00" y1="1849.30" x2="1628.00" y2="1993.00" stroke="#000" stroke-width="2.4" stroke-linecap="butt"/>
<line x1="1603.70" y1="1849.30" x2="1652.30" y2="1849.30" stroke="#000" stroke-width="2.4" stroke-linecap="round"/>
<line x1="1603.70" y1="1993.00" x2="1652.30" y2="1993.00" stroke="#000" stroke-width="2.4" stroke-linecap="round"/>
<circle cx="1459.50" cy="1874.70" r="5.4" fill="#000"/>
<circle cx="1480.20" cy="1874.70" r="5.4" fill="#000"/>
<circle cx="1500.80" cy="1874.70" r="5.4" fill="#000"/>
<circle cx="1628.00" cy="1864.10" r="5.4" fill="#000"/>
<circle cx="1628.00" cy="1898.30" r="5.4" fill="#000"/>
<circle cx="1628.00" cy="2002.00" r="5.4" fill="#000"/>
<text transform="translate(1299.90,1700.70) scale(0.9540,1)" x="-2.50" y="0" font-size="33.30">150</text>
<text transform="translate(1299.30,1877.40) scale(0.9540,1)" x="-2.50" y="0" font-size="33.30">100</text>
<text transform="translate(1313.95,2056.50) scale(0.9685,1)" x="-1.33" y="0" font-size="33.30">50</text>
<text transform="translate(1327.90,2241.80) scale(0.9811,1)" x="-1.33" y="0" font-size="33.30">0</text>
<text transform="translate(1265.80,2149.30) rotate(-90) scale(0.9507,1)" x="-0.75" y="0" font-size="33.30">TC-71 cell count (siRNA/siCT)</text>
<text x="1619.55" y="1774.80" font-size="33.28">ns</text>
<text transform="translate(1443.25,2294.00) scale(0.9571,1)" x="-0.92" y="0" font-size="33.30">siCT</text>
<text transform="translate(1592.20,2294.00) scale(0.9614,1)" x="-0.92" y="0" font-size="33.30">siPool</text>
<text x="-0.79" y="30.00" font-size="43.60" font-weight="bold">A</text>
<text x="1035.66" y="29.90" font-size="43.60" font-weight="bold">B</text>
<text x="0.46" y="836.30" font-size="43.60" font-weight="bold">C</text>
<text x="1036.06" y="836.70" font-size="43.60" font-weight="bold">D</text>
<text x="-0.14" y="1619.50" font-size="43.60" font-weight="bold">E</text>
<text x="1036.06" y="1619.50" font-size="43.60" font-weight="bold">F</text>
</svg>
</body></html>
